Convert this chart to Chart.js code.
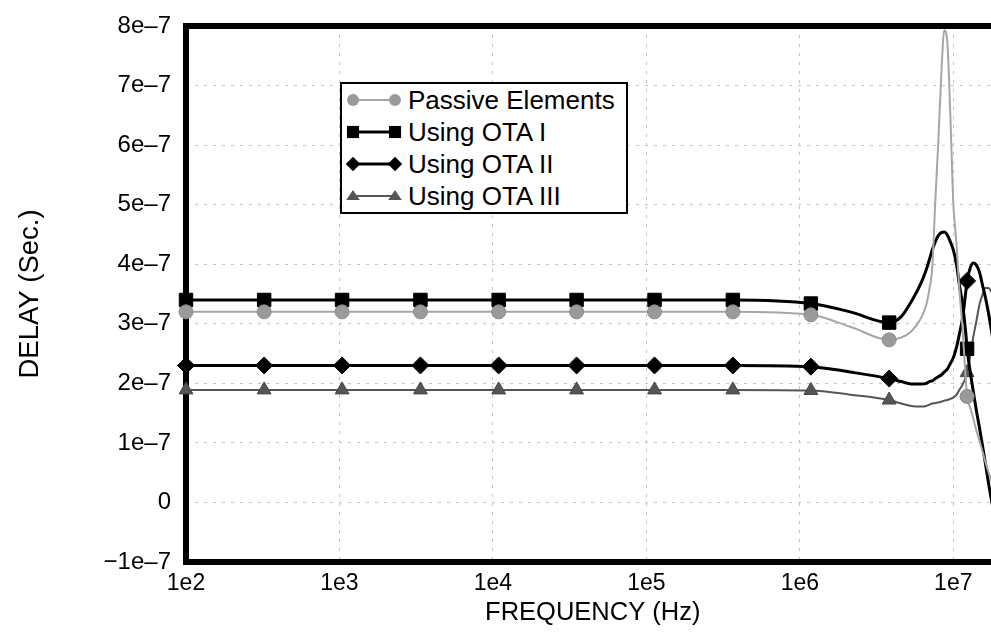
<!DOCTYPE html>
<html>
<head>
<meta charset="utf-8">
<script src="https://cdn.jsdelivr.net/npm/chart.js@4.4.1/dist/chart.umd.min.js"></script>
<style>
  html, body { margin: 0; padding: 0; background: #fff; overflow: hidden; }
  #wrap { position: relative; width: 1010px; height: 634px; }
  #c { display: block; }
  #legend {
    position: absolute; left: 340px; top: 82px; width: 284px; height: 128px;
    border: 2px solid #000; background: #fff;
    font-family: 'Liberation Sans', Arial, sans-serif; font-size: 26px; color: #000;
  }
  .row { display: flex; align-items: center; height: 32px; }
  .row span { margin-left: 4px; white-space: nowrap; }
</style>
</head>
<body>
<div id="wrap">
  <canvas id="c" width="1010" height="634"></canvas>
  <div id="legend"></div>
</div>
<script>
// ---- data ----
const seriesNames = ['Passive Elements', 'Using OTA I', 'Using OTA II', 'Using OTA III'];

const freqHz = [100, 323, 1040, 3370, 10900, 35100, 113000, 366000, 1180000, 2130000,
  3820000, 4580000, 5320000, 6180000, 6670000, 6970000, 7290000, 7640000, 7980000, 8350000,
  8730000, 9140000, 9550000, 10000000, 10500000, 10900000, 11500000, 12000000, 12300000, 12900000,
  13500000, 14100000, 14800000, 15500000, 16200000, 16900000, 17700000, 19400000];

// indices of freqHz where the series markers are drawn
const markerIndex = [0, 1, 2, 3, 4, 5, 6, 7, 8, 10, 28];

const passiveDelay = [3.20e-7, 3.20e-7, 3.20e-7, 3.20e-7, 3.20e-7, 3.20e-7, 3.20e-7, 3.20e-7, 3.15e-7, 2.95e-7,
  2.73e-7, 2.77e-7, 2.87e-7, 3.10e-7, 3.32e-7, 3.57e-7, 3.94e-7, 5.08e-7, 6.04e-7, 7.18e-7,
  7.93e-7, 7.73e-7, 6.56e-7, 5.03e-7, 4.33e-7, 3.65e-7, 2.90e-7, 2.14e-7, 1.78e-7, 1.59e-7,
  1.41e-7, 1.22e-7, 1.04e-7, 0.85e-7, 0.68e-7, 0.52e-7, 0.37e-7, 0.05e-7];

const ota1Delay = [3.40e-7, 3.40e-7, 3.40e-7, 3.40e-7, 3.40e-7, 3.40e-7, 3.40e-7, 3.40e-7, 3.34e-7, 3.20e-7,
  3.02e-7, 3.12e-7, 3.37e-7, 3.69e-7, 3.91e-7, 4.07e-7, 4.24e-7, 4.38e-7, 4.48e-7, 4.53e-7,
  4.54e-7, 4.49e-7, 4.38e-7, 4.24e-7, 3.99e-7, 3.69e-7, 3.32e-7, 2.90e-7, 2.58e-7, 2.19e-7,
  1.86e-7, 1.56e-7, 1.26e-7, 0.95e-7, 0.65e-7, 0.35e-7, 0.05e-7, -0.46e-7];

const ota2Delay = [2.30e-7, 2.30e-7, 2.30e-7, 2.30e-7, 2.30e-7, 2.30e-7, 2.30e-7, 2.30e-7, 2.28e-7, 2.19e-7,
  2.08e-7, 2.03e-7, 1.99e-7, 1.99e-7, 2.00e-7, 2.03e-7, 2.04e-7, 2.08e-7, 2.11e-7, 2.14e-7,
  2.19e-7, 2.24e-7, 2.33e-7, 2.43e-7, 2.61e-7, 2.80e-7, 3.10e-7, 3.49e-7, 3.72e-7, 3.94e-7,
  4.02e-7, 3.99e-7, 3.87e-7, 3.65e-7, 3.44e-7, 3.20e-7, 2.90e-7, 2.23e-7];

const ota3Delay = [1.89e-7, 1.89e-7, 1.89e-7, 1.89e-7, 1.89e-7, 1.89e-7, 1.89e-7, 1.89e-7, 1.88e-7, 1.81e-7,
  1.72e-7, 1.66e-7, 1.62e-7, 1.61e-7, 1.62e-7, 1.64e-7, 1.66e-7, 1.67e-7, 1.68e-7, 1.69e-7,
  1.71e-7, 1.72e-7, 1.74e-7, 1.76e-7, 1.81e-7, 1.88e-7, 1.98e-7, 2.09e-7, 2.18e-7, 2.46e-7,
  2.78e-7, 3.03e-7, 3.32e-7, 3.49e-7, 3.60e-7, 3.60e-7, 3.54e-7, 3.32e-7];

const xTickValues = [1e2, 1e3, 1e4, 1e5, 1e6, 1e7];
const xTickLabels = ['1e2', '1e3', '1e4', '1e5', '1e6', '1e7'];
const yTickValues = [-1e-7, 0, 1e-7, 2e-7, 3e-7, 4e-7, 5e-7, 6e-7, 7e-7, 8e-7];
const yTickLabels = ['\u22121e\u20137', '0', '1e\u20137', '2e\u20137', '3e\u20137', '4e\u20137', '5e\u20137', '6e\u20137', '7e\u20137', '8e\u20137'];

// ---- styles ----
const FONT = "'Liberation Sans', Arial, sans-serif";
const styles = [
  { line: '#a6a6a6', width: 2, point: 'circle', r: 7, fill: '#9a9a9a', stroke: '#8a8a8a' },
  { line: '#000000', width: 3, point: 'rect', r: 9.5, fill: '#000', stroke: '#000' },
  { line: '#000000', width: 3, point: 'rectRot', r: 8.5, fill: '#000', stroke: '#000' },
  { line: '#555555', width: 2, point: 'triangle', r: 8, fill: '#555', stroke: '#444' }
];
const seriesValues = [passiveDelay, ota1Delay, ota2Delay, ota3Delay];

const isMarker = freqHz.map((_, i) => markerIndex.includes(i));

const datasets = seriesNames.map((name, s) => ({
  label: name,
  data: freqHz.map((f, i) => ({ x: f, y: seriesValues[s][i] })),
  borderColor: styles[s].line,
  borderWidth: styles[s].width,
  pointStyle: styles[s].point,
  pointRadius: ctx => isMarker[ctx.dataIndex] ? styles[s].r : 0,
  pointBackgroundColor: styles[s].fill,
  pointBorderColor: styles[s].stroke,
  pointBorderWidth: 1,
  cubicInterpolationMode: 'monotone',
  clip: false,
  fill: false
}));

const framePlugin = {
  id: 'frame',
  beforeDatasetsDraw(chart) {
    const { ctx, chartArea: a } = chart;
    ctx.save();
    ctx.strokeStyle = '#000';
    ctx.lineWidth = 6;
    ctx.strokeRect(a.left, a.top, a.right - a.left, a.bottom - a.top);
    ctx.restore();
  }
};

new Chart(document.getElementById('c'), {
  type: 'line',
  data: { datasets },
  plugins: [framePlugin],
  options: {
    responsive: false,
    animation: false,
    devicePixelRatio: 1,
    layout: { padding: { top: 26, right: 1, left: 0, bottom: 0 } },
    plugins: { legend: { display: false }, tooltip: { enabled: false } },
    scales: {
      x: {
        type: 'logarithmic',
        min: 100,
        max: 2e7,
        afterBuildTicks: s => { s.ticks = xTickValues.map(v => ({ value: v })); },
        afterFit: s => { s.height = 72; },
        ticks: {
          callback: (v, i) => xTickLabels[i],
          autoSkip: false, maxRotation: 0, padding: 8,
          color: '#000', font: { family: FONT, size: 23 }
        },
        grid: { color: '#c4c4c4', lineWidth: 1, drawTicks: false },
        border: { display: false, dash: [3, 6] },
        title: {
          display: true, text: 'FREQUENCY (Hz)', color: '#000',
          font: { family: FONT, size: 25.5 }, padding: { top: 0, bottom: 6 }
        }
      },
      y: {
        type: 'linear',
        min: -1e-7,
        max: 8e-7,
        afterBuildTicks: s => { s.ticks = yTickValues.map(v => ({ value: v })); },
        afterFit: s => { s.width = 186; s.paddingTop = 0; s.paddingBottom = 0; },
        ticks: {
          callback: (v, i) => yTickLabels[i],
          padding: 15, color: '#000', font: { family: FONT, size: 24 }
        },
        grid: { color: '#c4c4c4', lineWidth: 1, drawTicks: false },
        border: { display: false, dash: [3, 6] },
        title: {
          display: true, text: 'DELAY (Sec.)', color: '#000',
          font: { family: FONT, size: 27.5 }, padding: { top: 14, bottom: 0 }
        }
      }
    }
  }
});

// ---- legend (HTML text, small SVG samples) ----
function markerSvg(st, cx, cy) {
  const r = st.r * 0.85;
  if (st.point === 'circle') return `<circle cx="${cx}" cy="${cy}" r="${r}" fill="${st.fill}"/>`;
  if (st.point === 'rect') { const h = r * 0.75; return `<rect x="${cx - h}" y="${cy - h}" width="${2 * h}" height="${2 * h}" fill="${st.fill}"/>`; }
  if (st.point === 'rectRot') return `<polygon points="${cx - r},${cy} ${cx},${cy - r} ${cx + r},${cy} ${cx},${cy + r}" fill="${st.fill}"/>`;
  return `<polygon points="${cx - r},${cy + r * 0.6} ${cx + r},${cy + r * 0.6} ${cx},${cy - r * 0.9}" fill="${st.fill}"/>`;
}
const legend = document.getElementById('legend');
seriesNames.forEach((name, s) => {
  const st = styles[s];
  const row = document.createElement('div');
  row.className = 'row';
  row.innerHTML = `<svg width="60" height="24" style="margin-left:2px">
      <line x1="9" y1="12" x2="51" y2="12" stroke="${st.line}" stroke-width="${st.width}"/>
      ${markerSvg(st, 9, 12)}${markerSvg(st, 51, 12)}
    </svg><span>${name}</span>`;
  legend.appendChild(row);
});
</script>
</body>
</html>
